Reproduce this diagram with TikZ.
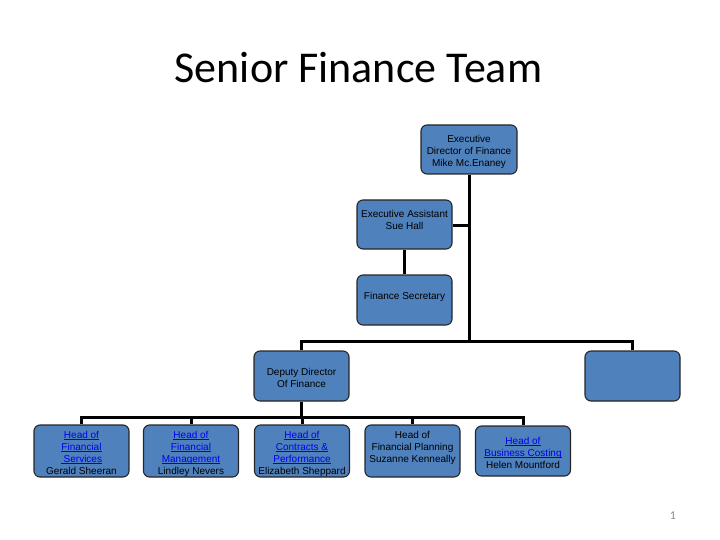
\documentclass[tikz,border=0pt]{standalone}
\usepackage{fontspec}
\setmainfont{Liberation Sans}
\newfontfamily\calfont{Carlito}
\definecolor{boxblue}{RGB}{79,129,189}
\definecolor{linkblue}{RGB}{0,0,238}
\definecolor{pagegray}{RGB}{137,137,137}
\newcommand{\lnk}[1]{\textcolor{linkblue}{\setbox0\hbox{#1}\rlap{\rule[-1.6pt]{\wd0}{0.6pt}}\box0}}
\newcommand{\orgfont}{\fontsize{10}{12}\selectfont\lineskiplimit=-20pt\relax}
\newcommand{\ost}{\rule{0pt}{13pt}}
\newcommand{\bst}{\rule[-3pt]{0pt}{3pt}}
\begin{document}
\begin{tikzpicture}[x=1pt,y=-1pt,
  orgbox/.style={draw=black!85, line width=1.1pt, fill=boxblue, rounded corners=6pt,
    minimum width=95pt, minimum height=50pt, inner sep=0pt, align=center,
    font=\orgfont},
  conn/.style={line width=3pt, black}]
\useasboundingbox (0,0) rectangle (720,540);
\node[font=\calfont\fontsize{44}{50}\selectfont, anchor=base] (title) at (358.5,83) {Senior Finance Team};
\node[font=\calfont\fontsize{12}{14}\selectfont, text=pagegray, anchor=base] (pg) at (673,519.5) {1};

\node[orgbox, minimum width=96pt, minimum height=49pt] (ed) at (469,149.5) {\ost Executive\\Director of Finance\\Mike Mc.Enaney\bst};
\node[orgbox, minimum height=49pt] (ea) at (404.5,224.5) {\ost Executive Assistant\\Sue Hall\\\bst};
\node[orgbox] (fs) at (404.5,300) {\ost Finance Secretary\\\bst};
\node[orgbox] (dd) at (301.5,376) {\ost Deputy Director\\Of Finance\bst};
\node[orgbox] (bl) at (632.5,376) {};
\node[orgbox] (b1) at (81.5,451) {\ost\lnk{Head of}\\\lnk{Financial}\\\lnk{\ Services}\\Gerald Sheeran\bst};
\node[orgbox] (b2) at (191,451) {\ost\lnk{Head of}\\\lnk{Financial}\\\lnk{Management}\\Lindley Nevers\bst};
\node[orgbox] (b3) at (302,451) {\ost\lnk{Head of}\\\lnk{Contracts \&}\\\lnk{Performance}\\Elizabeth Sheppard\bst};
\node[orgbox] (b4) at (412.5,451) {\ost Head of\\Financial Planning\\Suzanne Kenneally\\\bst};
\node[orgbox] (b5) at (523,451) {\ost\lnk{Head of}\\\lnk{Business Costing}\\Helen Mountford\bst};

\coordinate (bus1) at (469,341);
\coordinate (bus2) at (301.5,417);
\coordinate (eaj) at (469,226);

\draw[conn] (ed.south) -- (bus1);
\draw[conn] (ea.east |- eaj) -- (eaj);
\draw[conn] (ea.south) -- (fs.north);
\draw[conn] (dd.north) |- (bus1) -| (bl.north);
\draw[conn] (dd.south) -- (bus2);
\draw[conn] (b1.north) |- (bus2) -| (b5.north);
\draw[conn] (b2.north) -- (b2.north |- bus2);
\draw[conn] (b3.north) -- (b3.north |- bus2);
\draw[conn] (b4.north) -- (b4.north |- bus2);
\end{tikzpicture}
\end{document}
